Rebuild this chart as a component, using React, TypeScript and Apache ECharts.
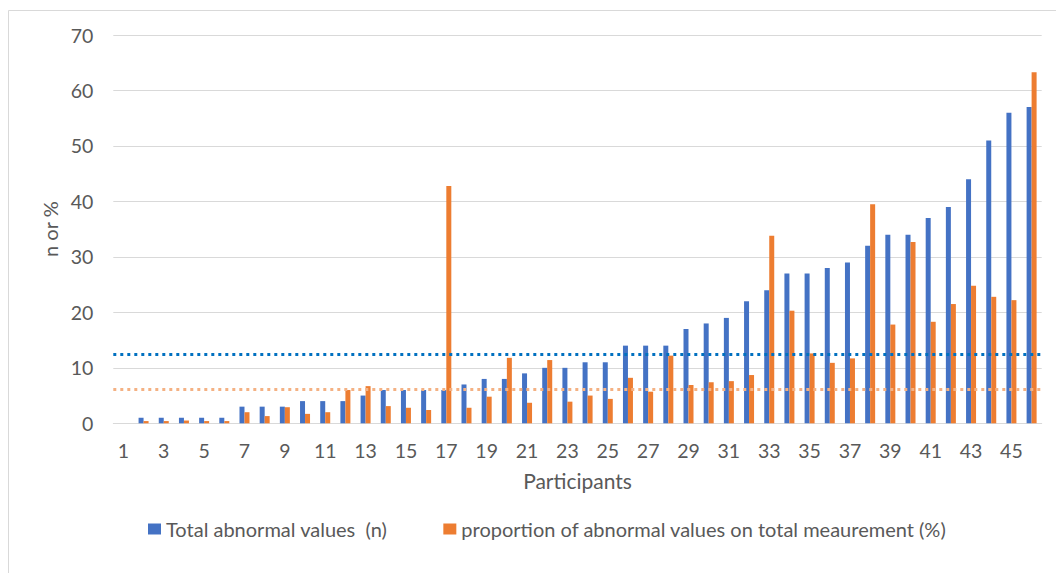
import React, { useEffect, useRef } from "react";
import * as echarts from "echarts";

const participants: string[] = Array.from({ length: 46 }, (_, i) => String(i + 1));

const totalAbnormal: number[] = [
  0, 1, 1, 1, 1, 1, 3, 3, 3, 4, 4, 4, 5, 6, 6, 6, 6, 7, 8, 8, 9, 10, 10, 11, 11, 14, 14, 14, 17, 18,
  19, 22, 24, 27, 27, 28, 29, 32, 34, 34, 37, 39, 44, 51, 56, 57,
];

const proportionAbnormal: number[] = [
  0, 0.4, 0.4, 0.5, 0.4, 0.4, 2.0, 1.3, 2.9, 1.7, 2.0, 6.0, 6.7, 3.1, 2.8, 2.4, 42.8, 2.8, 4.8, 11.8,
  3.7, 11.4, 3.9, 5.0, 4.4, 8.2, 5.7, 12.2, 6.9, 7.4, 7.6, 8.7, 33.8, 20.3, 12.6, 10.9, 11.7, 39.5,
  17.8, 32.7, 18.3, 21.5, 24.8, 22.8, 22.2, 63.3,
];

const referenceN = 12.4;
const referencePct = 6.1;

const yTicks = { min: 0, max: 70, interval: 10 };

const seriesNames = [
  "Total abnormal values  (n)",
  "proportion of abnormal values on total meaurement (%)",
];

const FONT = "Lato, 'Open Sans', sans-serif";
const TEXT = "#595959";

export default function App() {
  const ref = useRef<HTMLDivElement>(null);

  useEffect(() => {
    if (!ref.current) return;
    const chart = echarts.init(ref.current, undefined, { renderer: "svg" });
    chart.setOption({
      animation: false,
      backgroundColor: "#ffffff",
      textStyle: { fontFamily: FONT, color: TEXT },
      graphic: [
        {
          type: "rect",
          shape: { x: 8.5, y: 10.5, width: 1200, height: 800 },
          style: { fill: "none", stroke: "#d9d9d9", lineWidth: 1 },
          silent: true,
        },
      ],
      grid: {
        left: 113.3,
        right: 14.3,
        top: 35,
        bottom: 149.7,
        containLabel: false,
        outerBoundsMode: "none",
      },
      legend: {
        data: seriesNames,
        left: 143,
        top: 514,
        itemWidth: 13,
        itemHeight: 11,
        itemGap: 56,
        icon: "rect",
        textStyle: { fontFamily: FONT, fontSize: 20, color: TEXT },
      },
      xAxis: {
        type: "category",
        data: participants,
        name: "Participants",
        nameLocation: "middle",
        nameGap: 47,
        nameTextStyle: { fontFamily: FONT, fontSize: 21, color: TEXT },
        axisLine: { show: true, lineStyle: { color: "#d9d9d9", width: 1 } },
        axisTick: { show: false },
        axisLabel: {
          interval: 1,
          margin: 17,
          fontFamily: FONT,
          fontSize: 19.5,
          color: TEXT,
        },
      },
      yAxis: {
        type: "value",
        min: yTicks.min,
        max: yTicks.max,
        interval: yTicks.interval,
        name: "n or %",
        nameLocation: "middle",
        nameGap: 50,
        nameTextStyle: { fontFamily: FONT, fontSize: 20, color: TEXT },
        axisLine: { show: false },
        axisTick: { show: false },
        axisLabel: { margin: 20, fontFamily: FONT, fontSize: 19.5, color: TEXT },
        splitLine: { lineStyle: { color: "#d9d9d9", width: 1 } },
      },
      series: [
        {
          name: seriesNames[0],
          type: "bar",
          data: totalAbnormal,
          barWidth: 5,
          barGap: "0%",
          itemStyle: { color: "#4472C4" },
          markLine: {
            silent: true,
            symbol: "none",
            label: { show: false },
            lineStyle: { color: "#0070C0", width: 3, type: [3, 4] },
            data: [{ yAxis: referenceN }],
          },
        },
        {
          name: seriesNames[1],
          type: "bar",
          data: proportionAbnormal,
          barWidth: 5,
          barGap: "0%",
          itemStyle: { color: "#ED7D31" },
          markLine: {
            silent: true,
            symbol: "none",
            label: { show: false },
            lineStyle: { color: "#F4B183", width: 3, type: [3, 4] },
            data: [{ yAxis: referencePct }],
          },
        },
      ],
    });
    return () => chart.dispose();
  }, []);

  return (
    <div
      ref={ref}
      style={{ position: "fixed", left: 0, top: 0, width: 1056, height: 573 }}
    />
  );
}
